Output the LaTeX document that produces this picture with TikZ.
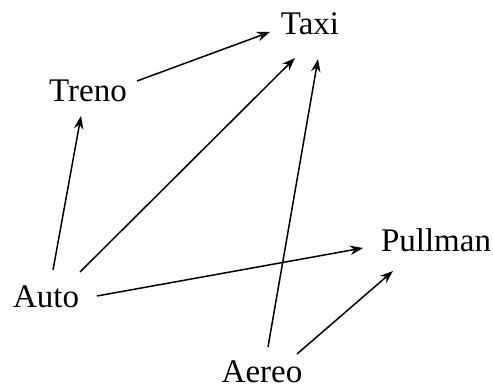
\documentclass[tikz,border=0pt]{standalone}
\usepackage{fontspec}
\setmainfont{Liberation Serif}
\usetikzlibrary{arrows.meta}
\begin{document}
\begin{tikzpicture}[x=1pt,y=1pt,
  lbl/.style={anchor=base,inner sep=0pt,font=\fontsize{33}{40}\selectfont},
  arr/.style={-{Stealth[length=13pt,width=9.5pt]},line width=1.5pt}]
\useasboundingbox (0,0) rectangle (493,390);
\node[lbl] (taxi) at (310,355) {Taxi};
\node[lbl] (treno) at (88,288) {Treno};
\node[lbl] (pullman) at (436,138) {Pullman};
\node[lbl] (auto) at (46,82) {Auto};
\node[lbl] (aereo) at (262,7) {Aereo};
\draw[arr] ([shift={(49pt,21pt)}]treno.base) -- ([shift={(-40pt,3pt)}]taxi.base);
\draw[arr] ([shift={(7pt,38pt)}]auto.base) -- ([shift={(-7pt,-14pt)}]treno.base);
\draw[arr] ([shift={(34pt,36pt)}]auto.base) -- ([shift={(-15pt,-23pt)}]taxi.base);
\draw[arr] ([shift={(6pt,36pt)}]aereo.base) -- ([shift={(8pt,-24pt)}]taxi.base);
\draw[arr] ([shift={(35pt,29pt)}]aereo.base) -- ([shift={(-43pt,-19pt)}]pullman.base);
\draw[arr] ([shift={(51pt,12pt)}]auto.base) -- ([shift={(-73pt,4pt)}]pullman.base);
\end{tikzpicture}
\end{document}
